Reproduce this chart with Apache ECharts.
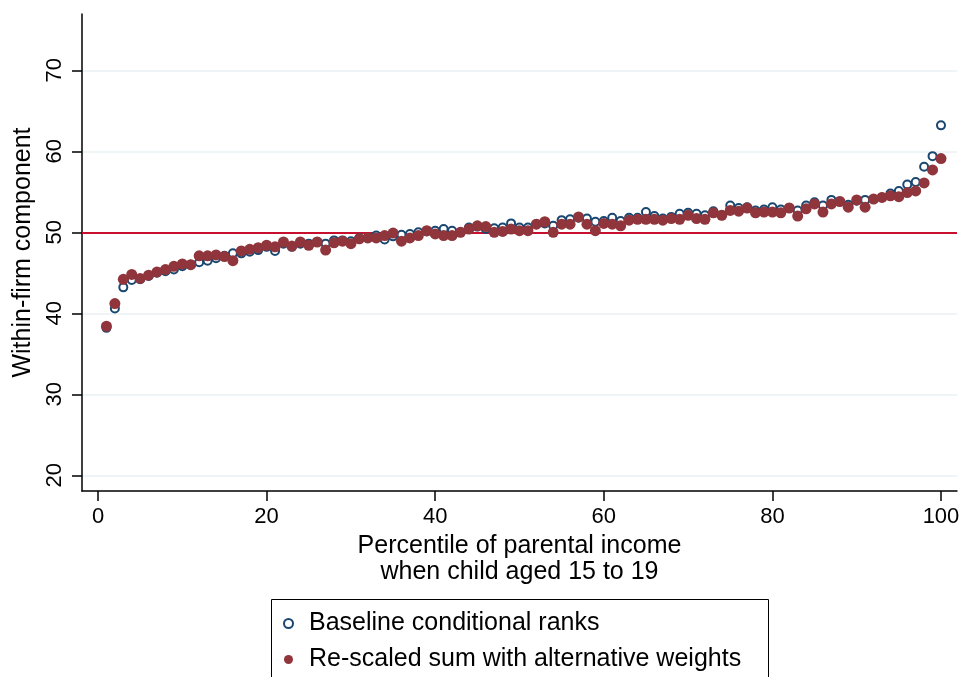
<!DOCTYPE html>
<html>
<head>
<meta charset="utf-8">
<script src="https://cdn.jsdelivr.net/npm/echarts@6/dist/echarts.min.js"></script>
<style>
html,body{margin:0;padding:0;background:#fff;}
#chart{width:963px;height:677px;}
</style>
</head>
<body>
<div id="chart"></div>
<script>
// Percentiles 1..100
const percentiles = Array.from({length: 100}, (_, i) => i + 1);

const baseline = [
38.2,40.6,43.2,44.1,44.2,44.6,45.0,45.2,45.4,45.8,
46.0,46.3,46.5,46.8,47.1,47.4,47.4,47.6,47.8,48.2,
47.7,48.6,48.2,48.6,48.6,48.8,48.6,49.0,49.0,48.9,
49.3,49.3,49.6,49.1,49.5,49.7,49.8,50.0,50.1,50.2,
50.4,50.2,50.0,50.6,50.7,50.4,50.5,50.6,51.1,50.6,
50.6,51.0,51.1,50.8,51.5,51.6,51.8,51.7,51.3,51.4,
51.8,51.4,51.8,51.8,52.5,52.0,51.7,51.9,52.3,52.4,
52.3,52.1,52.6,52.1,53.3,53.0,53.1,52.7,52.8,53.1,
52.8,53.0,52.7,53.3,53.7,53.3,54.0,53.8,53.4,53.9,
54.0,54.1,54.3,54.8,55.1,55.9,56.2,58.1,59.4,63.2
];

const rescaled = [
38.4,41.2,44.2,44.8,44.3,44.7,45.1,45.4,45.8,46.1,
46.0,47.1,47.1,47.2,47.0,46.5,47.7,47.9,48.1,48.4,
48.2,48.8,48.3,48.8,48.4,48.8,47.8,48.7,48.9,48.6,
49.2,49.3,49.3,49.6,49.9,48.9,49.3,49.6,50.2,49.8,
49.6,49.6,50.0,50.4,50.8,50.7,50.0,50.1,50.4,50.2,
50.2,51.0,51.3,50.0,51.0,51.0,51.9,51.0,50.2,51.1,
51.0,50.8,51.5,51.6,51.6,51.6,51.5,51.7,51.6,52.1,
51.7,51.6,52.4,52.1,52.7,52.6,53.0,52.4,52.5,52.5,
52.4,53.0,52.0,52.9,53.5,52.5,53.5,53.8,53.1,54.0,
53.1,54.1,54.3,54.5,54.4,54.9,55.1,56.1,57.7,59.1
];

const xTicks = [0, 20, 40, 60, 80, 100];
const yTicks = [20, 30, 40, 50, 60, 70];
const gridValues = [20, 30, 40, 60, 70];
const refValue = 50;

const seriesNames = ['Baseline conditional ranks', 'Re-scaled sum with alternative weights'];
const xTitle = 'Percentile of parental income\nwhen child aged 15 to 19';
const yTitle = 'Within-firm component';

const FONT = '"Liberation Sans", Arial, Helvetica, sans-serif';

const chart = echarts.init(document.getElementById('chart'), null, {renderer: 'canvas'});

const option = {
  backgroundColor: '#ffffff',
  animation: false,
  textStyle: {fontFamily: FONT},
  grid: {left: 82, right: 6, top: 14, bottom: 186, containLabel: false},
  xAxis: {
    type: 'value',
    min: -1.9,
    max: 101.9,
    axisLine: {show: true, onZero: false, lineStyle: {color: '#000', width: 1.5}},
    axisTick: {show: true, customValues: xTicks, length: 10, lineStyle: {color: '#000', width: 1.5}},
    axisLabel: {customValues: xTicks, fontSize: 22, color: '#000', margin: 15, fontFamily: FONT},
    splitLine: {show: false},
    name: xTitle,
    nameLocation: 'middle',
    nameGap: 40,
    nameTextStyle: {fontSize: 25, color: '#000', lineHeight: 26, fontFamily: FONT}
  },
  yAxis: {
    type: 'value',
    min: 18.06,
    max: 76.95,
    axisLine: {show: true, onZero: false, lineStyle: {color: '#000', width: 1.5}},
    axisTick: {show: true, customValues: yTicks, length: 10, lineStyle: {color: '#000', width: 1.5}},
    axisLabel: {customValues: yTicks, fontSize: 22, color: '#000', margin: 16, rotate: 90, fontFamily: FONT},
    splitLine: {show: false},
    name: yTitle,
    nameLocation: 'middle',
    nameGap: 45,
    nameTextStyle: {fontSize: 25, color: '#000', fontFamily: FONT}
  },
  legend: {
    orient: 'vertical',
    left: 283,
    top: 611,
    padding: 0,
    itemWidth: 9,
    itemHeight: 9,
    itemGap: 11,
    textStyle: {fontSize: 25, color: '#000', fontFamily: FONT, padding: [0, 0, 0, 11]},
    data: [
      {name: seriesNames[0], icon: 'emptyCircle'},
      {name: seriesNames[1], icon: 'circle'}
    ]
  },
  graphic: [{
    type: 'rect',
    shape: {x: 271.5, y: 599.5, width: 497, height: 100},
    style: {fill: 'none', stroke: '#000', lineWidth: 1},
    silent: true,
    z: 100
  }],
  series: [
    {
      name: '__grid',
      type: 'scatter',
      data: [],
      silent: true,
      markLine: {
        silent: true,
        symbol: 'none',
        z: 0,
        label: {show: false},
        lineStyle: {color: '#eaf2f3', width: 1.5, type: 'solid'},
        data: gridValues.map(v => ({yAxis: v}))
      }
    },
    {
      name: '__ref',
      type: 'scatter',
      data: [],
      silent: true,
      markLine: {
        silent: true,
        symbol: 'none',
        z: 1,
        label: {show: false},
        lineStyle: {color: '#c8102e', width: 2, type: 'solid'},
        data: [{yAxis: refValue}]
      }
    },
    {
      name: seriesNames[0],
      type: 'scatter',
      symbol: 'emptyCircle',
      symbolSize: 8,
      z: 3,
      itemStyle: {color: '#1a476f', borderColor: '#1a476f', borderWidth: 2, opacity: 1},
      data: percentiles.map((p, i) => [p, baseline[i]])
    },
    {
      name: seriesNames[1],
      type: 'scatter',
      symbol: 'circle',
      symbolSize: 11,
      z: 4,
      itemStyle: {color: '#90353b', opacity: 1},
      data: percentiles.map((p, i) => [p, rescaled[i]])
    }
  ]
};

chart.setOption(option);
</script>
</body>
</html>
